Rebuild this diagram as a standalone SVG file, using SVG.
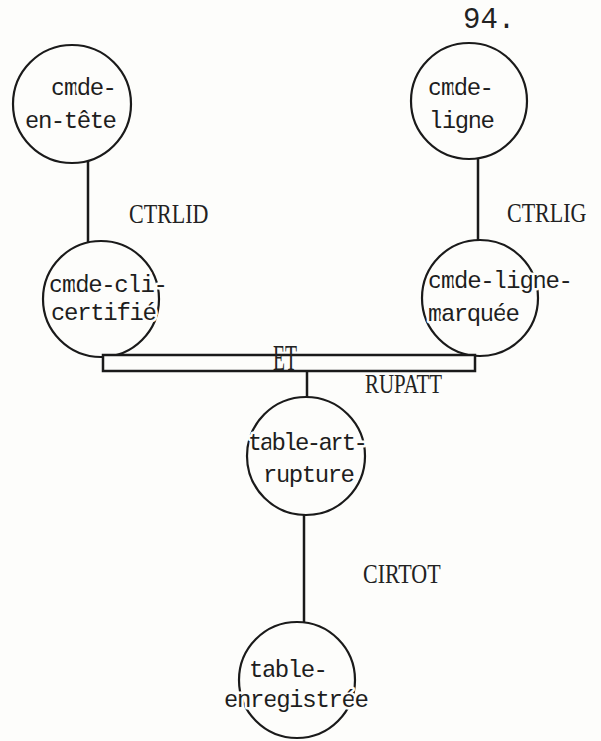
<svg xmlns="http://www.w3.org/2000/svg" width="601" height="741" viewBox="0 0 601 741">
<style>
.node circle{fill:none;stroke:#1a1a1a;stroke-width:2.2}
.lbl{font-family:"Liberation Mono","DejaVu Sans Mono",monospace;font-size:24px;fill:#1e1e1e;stroke:#fdfdfb;stroke-width:5;paint-order:stroke;stroke-linejoin:round}
.cond{font-family:"Liberation Serif","DejaVu Serif",serif;font-size:22px;fill:#222}
#connectors line{stroke:#1a1a1a;stroke-width:2.5}
</style>
<rect width="601" height="741" fill="#fdfdfb"/>
<text x="463" y="28" font-family="Liberation Mono, DejaVu Sans Mono, monospace" font-size="29" fill="#222">94.</text>
<g id="connectors">
<line x1="88" y1="161" x2="88" y2="242"/>
<line x1="478" y1="158" x2="478" y2="240"/>
<line x1="307" y1="371" x2="307" y2="398"/>
<line x1="304" y1="515" x2="304" y2="622"/>
<text class="cond" transform="translate(129,223) scale(1,1.25)">CTRLID</text>
<text class="cond" transform="translate(507,222) scale(1,1.25)">CTRLIG</text>
<text class="cond" transform="translate(365,393) scale(1,1.25)" textLength="77" lengthAdjust="spacingAndGlyphs">RUPATT</text>
<text class="cond" transform="translate(363,583) scale(1,1.25)">CIRTOT</text>
</g>
<g id="cmde-en-tete" class="node">
<circle cx="72" cy="104" r="59"/>
<text class="lbl" x="51" y="95" textLength="66">cmde-</text>
<text class="lbl" x="25" y="128" textLength="92">en-tête</text>
</g>
<g id="cmde-ligne" class="node">
<circle cx="469" cy="101" r="58"/>
<text class="lbl" x="428" y="95" textLength="66">cmde-</text>
<text class="lbl" x="429" y="128" textLength="66">ligne</text>
</g>
<g id="cmde-cli-certifie" class="node">
<circle cx="101" cy="299" r="58"/>
<text class="lbl" x="49" y="292" textLength="119">cmde-cli-</text>
<text class="lbl" x="51" y="320" textLength="106">certifié</text>
</g>
<g id="cmde-ligne-marquee" class="node">
<circle cx="480" cy="298" r="58"/>
<text class="lbl" x="428" y="288" textLength="145">cmde-ligne-</text>
<text class="lbl" x="428" y="321" textLength="92">marquée</text>
</g>
<g id="et-bar">
<rect x="103" y="355" width="372" height="16" fill="#fdfdfb" stroke="#1a1a1a" stroke-width="2.5"/>
<text class="cond" transform="translate(273,370) scale(1,1.6)" textLength="24" lengthAdjust="spacingAndGlyphs">ET</text>
</g>
<g id="table-art-rupture" class="node">
<circle cx="306" cy="456" r="59"/>
<text class="lbl" x="248" y="450" textLength="120">table-art-</text>
<text class="lbl" x="263" y="482" textLength="92">rupture</text>
</g>
<g id="table-enregistree" class="node">
<circle cx="297" cy="680" r="58"/>
<text class="lbl" x="249" y="677" textLength="79">table-</text>
<text class="lbl" x="224" y="707" textLength="145">enregistrée</text>
</g>
</svg>
